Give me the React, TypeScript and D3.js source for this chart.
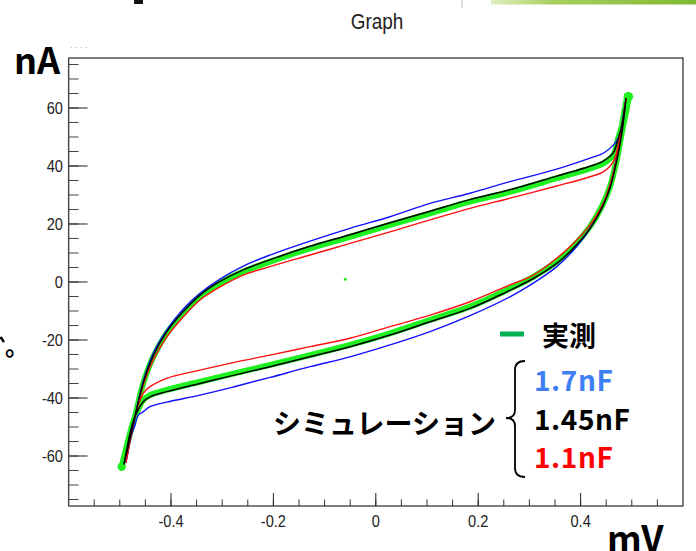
import React from "react";
import * as d3 from "d3";

type P = [number, number];

// measured (実測): upper branch left->right, then lower branch right->left
const measured: P[] = [
  [-0.4963, -63.7], [-0.48, -52.2], [-0.4703, -46.4], [-0.4541, -34.9], [-0.4346, -25.8],
  [-0.4084, -17.7], [-0.376, -10.8], [-0.3434, -5.1], [-0.3043, -0.4], [-0.2588, 3.6],
  [-0.1871, 8.2], [-0.1285, 11.6], [-0.0504, 15.6], [0.0277, 19.7], [0.1059, 23.7],
  [0.184, 27.7], [0.262, 31.1], [0.3533, 35.8], [0.4184, 39.2], [0.4443, 40.9],
  [0.4639, 43.8], [0.4736, 49.6], [0.4803, 53.6], [0.4848, 58.2], [0.4916, 63.8],
  [0.4932, 63.9], [0.4803, 51.3], [0.4705, 42.1], [0.4574, 32.9], [0.4412, 26.0],
  [0.4184, 19.1], [0.3857, 12.2], [0.3533, 7.0], [0.3076, 1.8], [0.2557, -2.8],
  [0.184, -8.5], [0.1059, -13.1], [0.0277, -17.7], [-0.0504, -21.7], [-0.1285, -25.2],
  [-0.2066, -28.6], [-0.2783, -31.6], [-0.3434, -34.4], [-0.4084, -37.2], [-0.441, -39.0],
  [-0.4541, -40.7], [-0.4703, -46.4], [-0.48, -52.2], [-0.4963, -63.7],
];

// simulation 1.45nF
const sim145: P[] = [
  [-0.492, -63], [-0.4703, -46.4], [-0.4541, -34.7], [-0.4346, -25.4], [-0.4084, -17.2],
  [-0.376, -10.2], [-0.3434, -4.5], [-0.3043, 0.2], [-0.2588, 4.2], [-0.1871, 8.9],
  [-0.1285, 12.3], [-0.0504, 16.3], [0.0277, 20.4], [0.1059, 24.4], [0.184, 28.4],
  [0.262, 31.8], [0.3533, 36.5], [0.4184, 39.9], [0.4443, 41.7], [0.4639, 44.6],
  [0.4736, 49.6], [0.4803, 53.6], [0.4848, 58.2], [0.4887, 63.3],
  [0.4803, 51.0], [0.4705, 41.8], [0.4574, 32.4], [0.4412, 25.4], [0.4184, 18.5],
  [0.3857, 11.6], [0.3533, 6.4], [0.3076, 1.2], [0.2557, -3.4], [0.184, -9.1],
  [0.1059, -13.7], [0.0277, -18.3], [-0.0504, -22.3], [-0.1285, -25.8], [-0.2066, -29.2],
  [-0.2783, -32.2], [-0.3434, -35.0], [-0.4084, -37.8], [-0.441, -39.6], [-0.4541, -41.3],
  [-0.4703, -46.4], [-0.48, -52.2], [-0.492, -63],
];

// simulation 1.7nF
const sim17: P[] = [
  [-0.488, -62.4], [-0.4703, -46.4], [-0.4547, -34.5], [-0.4352, -24.8], [-0.4084, -16.6],
  [-0.376, -9.3], [-0.3434, -3.9], [-0.3043, 1.0], [-0.2588, 5.5], [-0.2066, 9.3],
  [-0.1285, 14.1], [-0.0504, 18.5], [0.0277, 22.5], [0.1059, 27.1], [0.184, 30.6],
  [0.262, 34.6], [0.3533, 38.9], [0.4184, 42.7], [0.4443, 44.4], [0.4639, 47.2],
  [0.4736, 49.6], [0.4803, 53.6], [0.4848, 58.2], [0.4887, 63.3],
  [0.4736, 46.7], [0.4639, 37.5], [0.4477, 28.3], [0.4248, 20.2], [0.3924, 12.2],
  [0.3533, 5.3], [0.3076, -0.4], [0.262, -5.1], [0.184, -11.6], [0.1059, -17.1],
  [0.0277, -21.7], [-0.0504, -25.8], [-0.1285, -29.2], [-0.2066, -32.9], [-0.2783, -36.2],
  [-0.3434, -39.0], [-0.4084, -41.4], [-0.441, -43.0], [-0.4541, -44.7], [-0.4639, -45.9],
  [-0.4703, -49.3], [-0.48, -54.5], [-0.488, -62.4],
];

// simulation 1.1nF
const sim11: P[] = [
  [-0.488, -62.4], [-0.4703, -46.4], [-0.4541, -35.5], [-0.4346, -26.9], [-0.4084, -19.0],
  [-0.376, -12.0], [-0.3434, -6.2], [-0.3043, -1.7], [-0.2588, 2.4], [-0.2066, 5.3],
  [-0.1285, 9.3], [-0.0504, 13.3], [0.0277, 17.3], [0.1059, 21.4], [0.184, 25.4],
  [0.262, 28.9], [0.3533, 33.1], [0.4184, 36.3], [0.4443, 38.0], [0.4639, 41.5],
  [0.4736, 47.2], [0.4803, 53.6], [0.4848, 58.2], [0.4887, 63.3],
  [0.4736, 45.5], [0.4613, 35.9], [0.4443, 27.1], [0.4184, 19.7], [0.3857, 13.3],
  [0.3533, 8.2], [0.3076, 2.4], [0.262, -1.0], [0.184, -6.8], [0.1059, -11.4],
  [0.0277, -15.4], [-0.0504, -19.4], [-0.1285, -22.3], [-0.2066, -25.2], [-0.2783, -27.8],
  [-0.3434, -30.4], [-0.4084, -33.2], [-0.441, -36.1], [-0.4541, -38.4], [-0.4639, -42.4],
  [-0.4703, -46.4], [-0.48, -54.5], [-0.488, -62.4],
];

const strayPoint: P = [-0.0596, 0.93];

const xMajorTicks = [-0.4, -0.2, 0, 0.2, 0.4];
const xTickLabels = ["-0.4", "-0.2", "0", "0.2", "0.4"];
const yMajorTicks = [-60, -40, -20, 0, 20, 40, 60];
const yTickLabels = ["-60", "-40", "-20", "0", "20", "40", "60"];

const legendItems = [
  { label: "1.7nF", color: "#3f7ff5" },
  { label: "1.45nF", color: "#000000" },
  { label: "1.1nF", color: "#ff0000" },
];

export default function App() {
  const W = 696, H = 551;
  const L = 68.6, R = 683, T = 58, B = 506;
  const x = d3.scaleLinear().domain([-0.6, 0.6]).range([L, R]);
  const y = d3.scaleLinear().domain([-77.24, 77.24]).range([B, T]);
  const line = d3.line<P>().x((d) => x(d[0])).y((d) => y(d[1])).curve(d3.curveCatmullRom.alpha(0.5));

  const xMinor = d3.range(-0.55, 0.6, 0.05).map((v) => +v.toFixed(3));
  const yMinor = d3.range(-75, 76, 5);
  const font = "'Liberation Sans', Arial, sans-serif";
  const jp = "'Noto Sans CJK JP', 'Noto Sans', sans-serif";
  const sx = 0.86;

  return (
    <svg width={W} height={H} style={{ position: "absolute", left: 0, top: 0, display: "block", background: "#fff" }}>
      {/* top decorations */}
      <rect x={134} y={0} width={9} height={4} fill="#111" />
      <line x1={462} y1={0} x2={462} y2={8} stroke="#bbb" strokeWidth={1} />
      <defs>
        <linearGradient id="gbar" x1="0" x2="1" y1="0" y2="0">
          <stop offset="0" stopColor="#dfeec0" />
          <stop offset="0.3" stopColor="#a8d060" />
          <stop offset="1" stopColor="#7fb832" />
        </linearGradient>
      </defs>
      <rect x={491} y={0} width={205} height={4.5} fill="url(#gbar)" />

      <g transform={`translate(377,29) scale(${sx},1)`}>
        <text x={0} y={0} textAnchor="middle" fontFamily={font} fontSize={22} fill="#222">Graph</text>
      </g>

      {/* frame */}
      <rect x={L} y={T} width={R - L} height={B - T} fill="none" stroke="#000" strokeWidth={1} />
      <line x1={L} y1={T} x2={L} y2={B} stroke="#444" strokeWidth={1.3} />

      {/* y ticks */}
      {yMinor.map((v) => (
        <line key={"ym" + v} x1={L} x2={L + 10} y1={y(v)} y2={y(v)} stroke="#444" strokeWidth={1} />
      ))}
      {yMajorTicks.map((v) => (
        <line key={"yM" + v} x1={L} x2={L + 19} y1={y(v)} y2={y(v)} stroke="#222" strokeWidth={1} />
      ))}
      {yMajorTicks.map((v, i) => (
        <g key={"yl" + v} transform={`translate(63,${y(v)}) scale(${sx},1)`}>
          <text x={0} y={0} dy="0.36em" textAnchor="end" fontFamily={font} fontSize={17} fill="#222">
            {yTickLabels[i]}
          </text>
        </g>
      ))}

      {/* x ticks */}
      {xMinor.map((v) => (
        <line key={"xm" + v} x1={x(v)} x2={x(v)} y1={B} y2={B - 6.5} stroke="#333" strokeWidth={1} />
      ))}
      {xMajorTicks.map((v) => (
        <line key={"xM" + v} x1={x(v)} x2={x(v)} y1={B} y2={B - 13} stroke="#222" strokeWidth={1} />
      ))}
      {xMajorTicks.map((v, i) => (
        <g key={"xl" + v} transform={`translate(${x(v)},527) scale(${sx},1)`}>
          <text x={0} y={0} textAnchor="middle" fontFamily={font} fontSize={17} fill="#222">
            {xTickLabels[i]}
          </text>
        </g>
      ))}

      {/* curves */}
      <path d={line(measured) || ""} fill="none" stroke="#1ff01f" strokeWidth={6} strokeLinejoin="round" strokeLinecap="round" />
      <circle cx={x(measured[0][0])} cy={y(measured[0][1])} r={4.2} fill="#1ff01f" />
      <circle cx={x(measured[25][0])} cy={y(measured[25][1])} r={4.8} fill="#1ff01f" />
      <circle cx={x(strayPoint[0])} cy={y(strayPoint[1])} r={1.5} fill="#1ff01f" />
      <path d={line(sim17) || ""} fill="none" stroke="#1010ff" strokeWidth={1.4} />
      <path d={line(sim11) || ""} fill="none" stroke="#ff1010" strokeWidth={1.4} />
      <path d={line(sim145) || ""} fill="none" stroke="#000" strokeWidth={1.5} />

      {/* axis titles */}
      <text x={14} y={74} fontFamily={jp} fontWeight="bold" fontSize={36} fill="#000">nA</text>
      <text x={607} y={552} fontFamily={jp} fontWeight="bold" fontSize={36} fill="#000">mV</text>
      <text x={70} y={50} fontFamily={font} fontSize={8} fill="#888">· · · ·</text>

      {/* partial characters at left */}
      <line x1={0.5} y1={337} x2={4} y2={342} stroke="#000" strokeWidth={2.5} />
      <text x={5} y={355} fontFamily={jp} fontWeight="bold" fontSize={24} fill="#000">。</text>

      {/* legend */}
      <line x1={500} x2={524} y1={334} y2={334} stroke="#00b050" strokeWidth={5} />
      <text x={542} y={346} fontFamily={jp} fontWeight="bold" fontSize={27} fill="#000">実測</text>
      {legendItems.map((d, i) => (
        <text key={d.label} x={534} y={391 + i * 38.5} fontFamily={jp} fontWeight="bold" fontSize={28} letterSpacing={0.6} fill={d.color}>
          {d.label}
        </text>
      ))}
      <text x={273} y={434} fontFamily={jp} fontWeight="bold" fontSize={28} fill="#000">シミュレーション</text>
      <path
        d="M525,361 Q515,361 515,370 L515,410 Q515,418 506,418 Q515,418 515,426 L515,468 Q515,477 525,477"
        fill="none"
        stroke="#000"
        strokeWidth={1.8}
      />
    </svg>
  );
}
